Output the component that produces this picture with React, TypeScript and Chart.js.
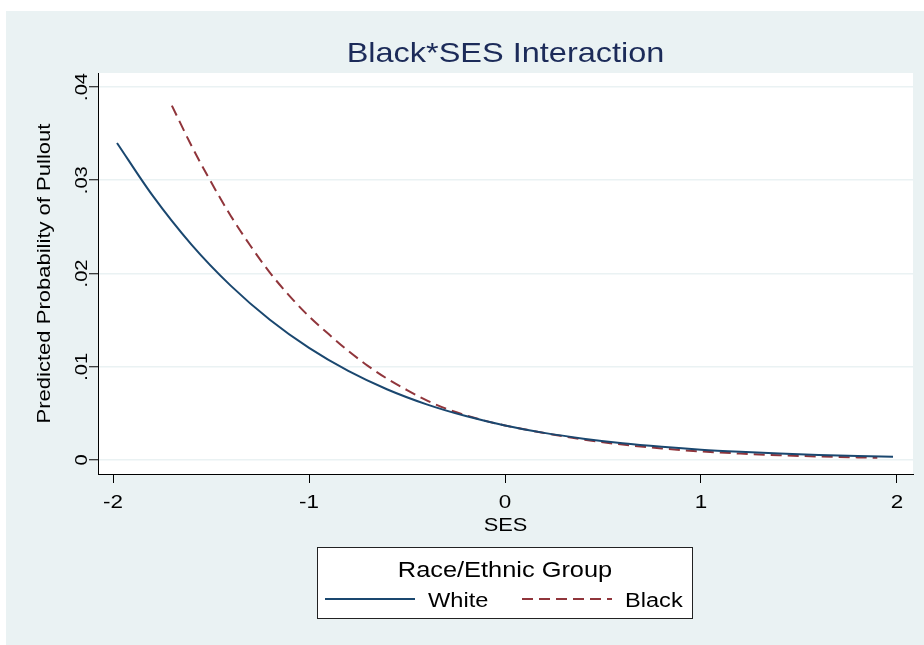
import { useEffect, useRef } from "react";
import { Chart, registerables } from "chart.js";

Chart.register(...registerables);

// ---- data ----
const whiteSES = [-1.98, -1.8, -1.6, -1.4, -1.2, -1.0, -0.8, -0.6, -0.4, -0.2, 0, 0.2, 0.4, 0.6, 0.8, 1.0, 1.2, 1.4, 1.6, 1.8, 1.98];
const whiteProb = [0.034, 0.0284, 0.0231, 0.0187, 0.01504, 0.01202, 0.00955, 0.00756, 0.00597, 0.00471, 0.0037, 0.00291, 0.00229, 0.0018, 0.00142, 0.00111, 0.00088, 0.00069, 0.00054, 0.00043, 0.00035];

const blackSES = [-1.7, -1.6, -1.5, -1.4, -1.3, -1.2, -1.1, -1.0, -0.9, -0.8, -0.7, -0.6, -0.5, -0.4, -0.3, -0.2, -0.1, 0, 0.2, 0.4, 0.6, 0.8, 1.0, 1.2, 1.4, 1.6, 1.8, 1.9];
const blackProb = [0.038, 0.0337, 0.0298, 0.0262, 0.023, 0.0201, 0.0176, 0.0154, 0.0135, 0.0117, 0.0101, 0.0087, 0.0075, 0.0064, 0.0055, 0.0048, 0.0042, 0.0037, 0.0029, 0.0022, 0.00165, 0.00124, 0.00092, 0.00069, 0.00051, 0.00038, 0.00028, 0.00024];

const xTicks = [-2, -1, 0, 1, 2];
const yTicks = [0, 0.01, 0.02, 0.03, 0.04];

const chartTitle = "Black*SES Interaction";
const xTitle = "SES";
const yTitle = "Predicted Probability of Pullout";
const legendTitle = "Race/Ethnic Group";
const seriesNames = ["White", "Black"];

// ---- styles ----
const FONT = "'Liberation Sans', Arial, sans-serif";
const WIDE = 1.18; // the original's type is set wide
const NAVY = "#1A476F";
const MAROON = "#90353B";
const BG = "#EAF2F3";
const TITLE_COLOR = "#1C2B59";
const DASH = [11, 6];

const fmtY = (v: number) => (v === 0 ? "0" : v.toFixed(2).replace(/^0/, ""));
const fmtX = (v: number) => String(v);

function text(
  ctx: CanvasRenderingContext2D,
  s: string,
  x: number,
  y: number,
  size: number,
  color: string,
  align: CanvasTextAlign,
  angle = 0,
  k = WIDE
) {
  ctx.save();
  ctx.translate(x, y);
  if (angle) ctx.rotate(angle);
  ctx.scale(k, 1);
  ctx.font = `${size}px ${FONT}`;
  ctx.fillStyle = color;
  ctx.textAlign = align;
  ctx.textBaseline = "alphabetic";
  ctx.fillText(s, 0, 0);
  ctx.restore();
}

const decor = {
  id: "decor",
  beforeDraw(chart: any) {
    const { ctx, chartArea, width, height } = chart;
    ctx.save();
    ctx.fillStyle = "#ffffff";
    ctx.fillRect(0, 0, width, height);
    ctx.fillStyle = BG;
    ctx.fillRect(6, 11, width - 6, height - 11);
    ctx.fillStyle = "#ffffff";
    ctx.fillRect(chartArea.left, chartArea.top, chartArea.right - chartArea.left, chartArea.bottom - chartArea.top);
    ctx.restore();
  },
  afterDraw(chart: any) {
    const { ctx, chartArea } = chart;
    const xs = chart.scales.x;
    const ys = chart.scales.y;
    const cx = (chartArea.left + chartArea.right) / 2;
    const cy = (chartArea.top + chartArea.bottom) / 2;

    // y tick labels (rotated)
    for (const v of yTicks) {
      text(ctx, fmtY(v), 87, ys.getPixelForValue(v), 17, "#000", "center", -Math.PI / 2);
    }
    // x tick labels
    for (const v of xTicks) {
      text(ctx, fmtX(v), xs.getPixelForValue(v), 508, 19, "#000", "center");
    }
    // axis titles
    text(ctx, xTitle, cx, 531, 18.5, "#000", "center");
    text(ctx, yTitle, 50, cy, 18.5, "#000", "center", -Math.PI / 2, 1.19);
    // chart title
    text(ctx, chartTitle, cx, 62, 28, TITLE_COLOR, "center", 0, 1.16);

    // legend
    const lx = 317, ly = 547, lw = 376, lh = 72;
    ctx.save();
    ctx.fillStyle = "#ffffff";
    ctx.fillRect(lx, ly, lw, lh);
    ctx.strokeStyle = "#222";
    ctx.lineWidth = 1;
    ctx.strokeRect(lx + 0.5, ly + 0.5, lw - 1, lh - 1);
    ctx.restore();
    text(ctx, legendTitle, lx + lw / 2, 577, 21.5, "#000", "center");

    const colors = [NAVY, MAROON];
    const lineX = [325, 522];
    const textX = [428, 625];
    for (let i = 0; i < 2; i++) {
      ctx.save();
      ctx.beginPath();
      ctx.strokeStyle = colors[i];
      ctx.lineWidth = 2;
      ctx.setLineDash(i === 1 ? DASH : []);
      ctx.moveTo(lineX[i], 599);
      ctx.lineTo(lineX[i] + 90, 599);
      ctx.stroke();
      ctx.restore();
      text(ctx, seriesNames[i], textX[i], 607, 20, "#000", "left");
    }
  },
};

export default function App() {
  const ref = useRef<HTMLCanvasElement>(null);
  useEffect(() => {
    const prevMargin = document.body.style.margin;
    document.body.style.margin = "0";
    const chart = new Chart(ref.current as HTMLCanvasElement, {
      type: "line",
      data: {
        datasets: [
          {
            label: seriesNames[0],
            data: whiteSES.map((x, i) => ({ x, y: whiteProb[i] })),
            borderColor: NAVY,
            borderWidth: 2,
            pointRadius: 0,
            fill: false,
            cubicInterpolationMode: "monotone",
          },
          {
            label: seriesNames[1],
            data: blackSES.map((x, i) => ({ x, y: blackProb[i] })),
            borderColor: MAROON,
            borderWidth: 2,
            borderDash: DASH,
            pointRadius: 0,
            fill: false,
            cubicInterpolationMode: "monotone",
          },
        ],
      },
      options: {
        responsive: false,
        animation: false,
        events: [],
        layout: { padding: { left: 0, right: 11, top: 73, bottom: 109 } },
        plugins: {
          legend: { display: false },
          title: { display: false },
          tooltip: { enabled: false },
        },
        scales: {
          x: {
            type: "linear",
            min: -2.077,
            max: 2.082,
            afterBuildTicks: (s: any) => {
              s.ticks = xTicks.map((v) => ({ value: v }));
            },
            afterFit: (s: any) => {
              s.height = 62;
            },
            grid: { drawOnChartArea: false, drawTicks: true, tickLength: 9, tickColor: "#000", tickWidth: 1 },
            border: { display: true, color: "#000", width: 1 },
            ticks: { display: false },
            title: { display: false },
          },
          y: {
            type: "linear",
            min: -0.0015,
            max: 0.0415,
            afterBuildTicks: (s: any) => {
              s.ticks = yTicks.map((v) => ({ value: v }));
            },
            afterFit: (s: any) => {
              s.width = 98;
            },
            grid: { color: BG, lineWidth: 1.5, drawTicks: true, tickLength: 9, tickColor: "#000", tickWidth: 1 },
            border: { display: true, color: "#000", width: 1 },
            ticks: { display: false },
            title: { display: false },
          },
        },
      },
      plugins: [decor],
    });
    return () => {
      chart.destroy();
      document.body.style.margin = prevMargin;
    };
  }, []);
  return (
    <div style={{ width: 924, height: 645 }}>
      <canvas ref={ref} width={924} height={645} style={{ display: "block" }} />
    </div>
  );
}
